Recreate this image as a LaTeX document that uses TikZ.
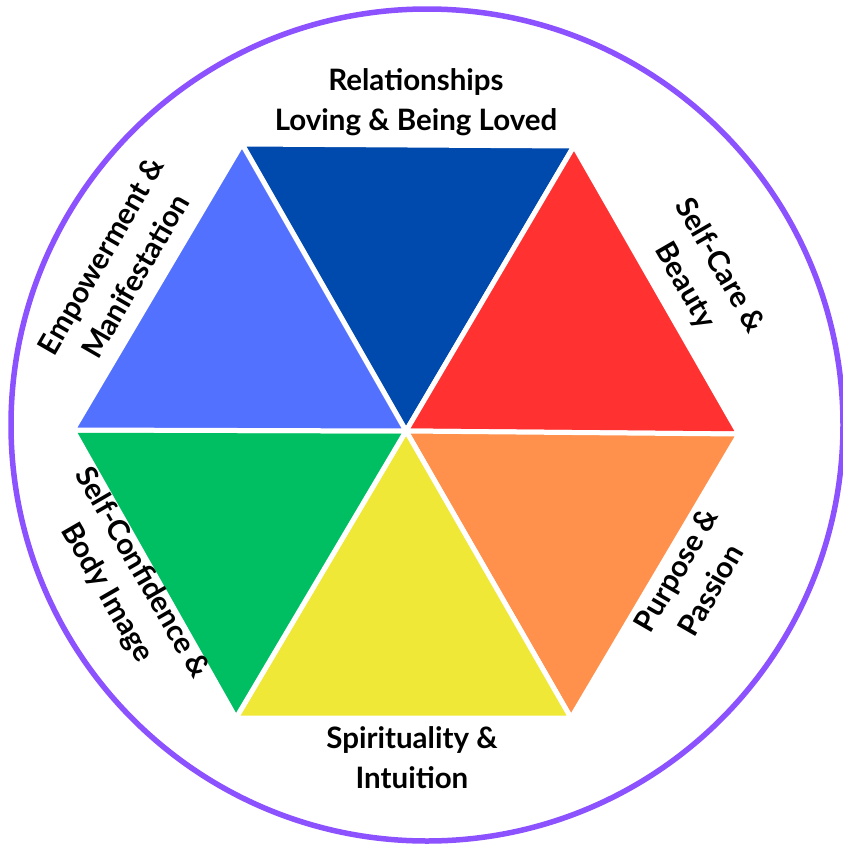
\documentclass[tikz,border=0pt]{standalone}
\usepackage{fontspec}
\setmainfont{Lato}
\definecolor{relblue}{HTML}{004AAD}
\definecolor{empblue}{HTML}{5271FF}
\definecolor{carered}{HTML}{FF3131}
\definecolor{purporange}{HTML}{FF914D}
\definecolor{spiryellow}{HTML}{F0E836}
\definecolor{confgreen}{HTML}{00BF63}
\definecolor{ringpurple}{HTML}{8C52FF}
\tikzset{
  slice/.style={draw=white, line width=5pt, line join=round},
  area/.style={font=\fontsize{29.5}{40}\selectfont\bfseries, align=center, inner sep=0pt}
}
\begin{document}
\begin{tikzpicture}[x=1pt, y=-1pt]
      % Fundo e limites
      \fill[white] (0,0) rectangle (843,846);
      \useasboundingbox (0,0) rectangle (843,846);
      \clip (0,0) rectangle (843,846);

      % Circulo externo
      \draw[ringpurple, line width=5.5pt] (427,425) circle (416);

      % Vertices do hexagono
      \coordinate (O) at (406,431);
      \coordinate (tl) at (242,144);
      \coordinate (tr) at (574,146);
      \coordinate (r) at (739,434);
      \coordinate (br) at (571,718);
      \coordinate (bl) at (236,718);
      \coordinate (l) at (73,430);

      % Triangulos
      \fill[relblue, slice] (O) -- (tl) -- (tr) -- cycle;
      \fill[carered, slice] (O) -- (tr) -- (r) -- cycle;
      \fill[purporange, slice] (O) -- (r) -- (br) -- cycle;
      \fill[spiryellow, slice] (O) -- (br) -- (bl) -- cycle;
      \fill[confgreen, slice] (O) -- (bl) -- (l) -- cycle;
      \fill[empblue, slice] (O) -- (l) -- (tl) -- cycle;

      % Rotulos
      \node[area] (rel) at (416,102) {Relationships\\Loving \& Being Loved};
      \node[area, rotate=-60] (care) at (702,276) {Self-Care \&\\Beauty};
      \node[area, rotate=60] (purp) at (693,580) {Purpose \&\\Passion};
      \node[area] (spir) at (412,758) {Spirituality \&\\Intuition};
      \node[area, rotate=-60] (conf) at (124,583) {Self-Confidence \&\\Body Image};
      \node[area, rotate=60] (emp) at (118,266) {Empowerment \&\\Manifestation};
    \end{tikzpicture}
\end{document}
